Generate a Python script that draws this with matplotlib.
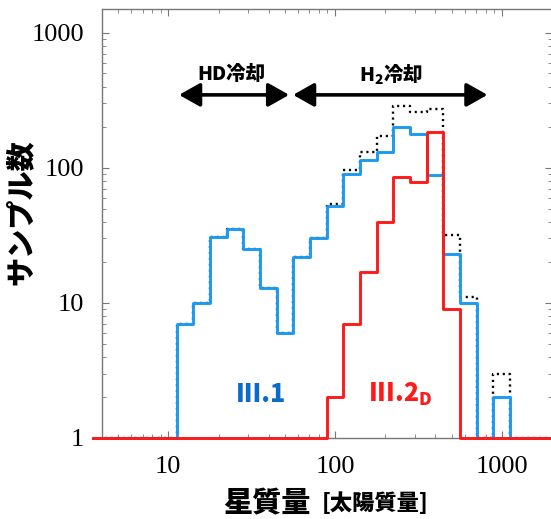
import numpy as np
import matplotlib
matplotlib.use("Agg")
import matplotlib.pyplot as plt
from matplotlib.ticker import FixedLocator, NullFormatter, LogLocator

plt.rcParams['font.family'] = ['Noto Sans CJK JP', 'DejaVu Sans']
plt.rcParams['mathtext.fontset'] = 'custom'
plt.rcParams['mathtext.bf'] = 'Noto Sans CJK JP:black'
plt.rcParams['mathtext.rm'] = 'Noto Sans CJK JP'

# log10 bin centers (0.1 dex bins)
log_centers = [0.6, 0.7, 0.8, 0.9, 1.0, 1.1, 1.2, 1.3, 1.4, 1.5, 1.6, 1.7, 1.8, 1.9,
               2.0, 2.1, 2.2, 2.3, 2.4, 2.5, 2.6, 2.7, 2.8, 2.9, 3.0, 3.1, 3.2, 3.3]
count_III1 = [0, 0, 0, 0, 0, 7, 10, 31, 35, 25, 13, 6, 22, 30,
              52, 90, 115, 130, 201, 179, 88, 23, 10, 0, 2, 0, 0, 0]
count_III2D = [0, 0, 0, 0, 0, 0, 0, 0, 0, 0, 0, 0, 0, 0,
               2, 7, 17, 40, 86, 78, 184, 9, 0, 0, 0, 0, 0, 0]
count_total = [0, 0, 0, 0, 0, 7, 10, 31, 35, 25, 13, 6, 22, 30,
               54, 96, 132, 171, 287, 257, 272, 32, 11, 0, 3, 0, 0, 0]

x_ticks = [10, 100, 1000]
x_ticklabels = ['10', '100', '1000']
y_ticks = [1, 10, 100, 1000]
y_ticklabels = ['1', '10', '100', '1000']

lc = np.array(log_centers)
edges = np.concatenate([10 ** (lc - 0.05), [10 ** (lc[-1] + 0.05)]])


def step_xy(counts):
    c = np.maximum(np.array(counts, dtype=float), 1.0)
    return edges, np.concatenate([c, [c[-1]]])


fig = plt.figure(figsize=(5.51, 5.19), dpi=100)
ax = fig.add_axes([102 / 551, (519 - 438) / 519, 450 / 551, 429 / 519])
ax.set_xscale('log')
ax.set_yscale('log')
ax.set_xlim(4, 2000)
ax.set_ylim(1, 1500)

xt, yt = step_xy(count_total)
ax.step(xt, yt, where='post', color='black', lw=1.7, ls=(0, (0.9, 1.6)), zorder=1.5)
xb, yb = step_xy(count_III1)
ax.step(xb, yb, where='post', color='#1a9af0', lw=2.1, zorder=2, clip_on=False)
xr, yr = step_xy(count_III2D)
ax.step(xr, yr, where='post', color='#ff1a1a', lw=2.1, zorder=3, clip_on=False)

grey = '#777777'
for s in ax.spines.values():
    s.set_color(grey)
    s.set_linewidth(1.0)
    s.set_zorder(1)

ax.xaxis.set_major_locator(FixedLocator(x_ticks))
ax.set_xticklabels(x_ticklabels)
ax.yaxis.set_major_locator(FixedLocator(y_ticks))
ax.set_yticklabels(y_ticklabels)
ax.xaxis.set_minor_locator(LogLocator(base=10, subs=np.arange(2, 10)))
ax.yaxis.set_minor_locator(LogLocator(base=10, subs=np.arange(2, 10)))
ax.xaxis.set_minor_formatter(NullFormatter())
ax.yaxis.set_minor_formatter(NullFormatter())
ax.tick_params(which='both', direction='in', top=True, right=True, color=grey)
ax.tick_params(which='major', length=5, width=0.8, pad=13)
ax.tick_params(which='minor', length=3, width=0.6)
for lab in ax.get_xticklabels() + ax.get_yticklabels():
    lab.set_fontfamily('Liberation Serif')
    lab.set_fontsize(19)

# cooling regime arrows
ap = dict(arrowstyle='<|-|>,head_length=0.85,head_width=0.48', lw=2.6,
          color='black', mutation_scale=15, shrinkA=0, shrinkB=0)
ax.annotate('', xy=(53, 347), xytext=(11.6, 347), arrowprops=ap)
ax.annotate('', xy=(820, 347), xytext=(56, 347), arrowprops=ap)
ax.text(24, 490, 'HD冷却', fontsize=14, fontweight='black', ha='center', va='center')
ax.text(215, 490, r'H$_\mathbf{2}$冷却', fontsize=14, fontweight='black', ha='center', va='center')

ax.text(36, 2.12, 'III.1', fontsize=18, fontweight='black', color='#0a6cc8',
        ha='center', va='center')
ax.text(158, 2.12, r'III.2$_\mathbf{D}$', fontsize=18, fontweight='black', color='#ff1a1a',
        ha='left', va='center')

fig.text(21 / 551, 1 - 212 / 519, 'サンプル数', rotation=90, fontsize=21,
         fontweight='black', ha='center', va='center')
fig.text(223 / 551, 1 - 504 / 519, '星質量', fontsize=21, fontweight='black',
         ha='left', va='center')
fig.text(322 / 551, 1 - 504 / 519, '[太陽質量]', fontsize=16, fontweight='black',
         ha='left', va='center')

fig.savefig('out.png', dpi=100)
